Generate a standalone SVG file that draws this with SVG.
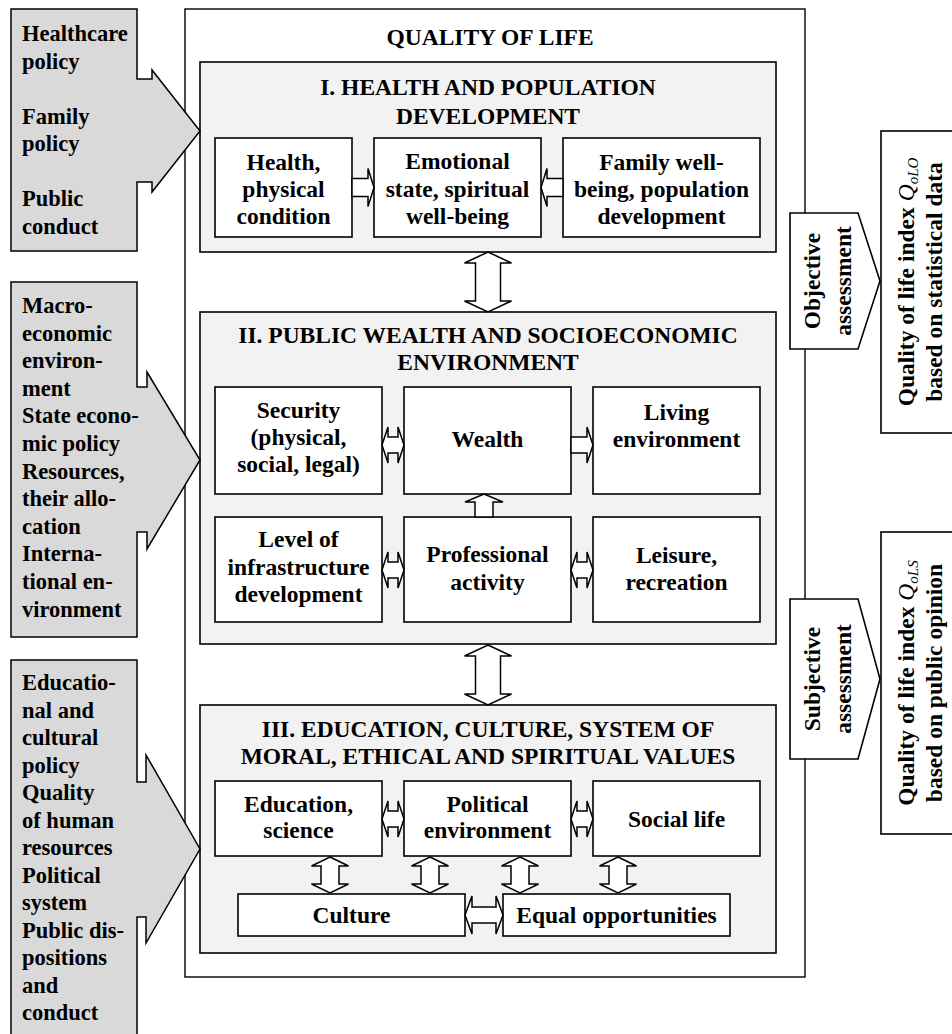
<svg xmlns="http://www.w3.org/2000/svg" width="952" height="1034" viewBox="0 0 952 1034">
<style>
text{font-family:"Liberation Serif","Times New Roman",serif;font-weight:bold;fill:#000}
.t{font-size:23.5px;text-anchor:middle}
.h{font-size:23.5px;text-anchor:middle}
.l{font-size:22.5px}
.r{font-size:23.5px;text-anchor:middle}
.box{fill:#fff;stroke:#000;stroke-width:1.6}
.sec{fill:#f2f2f2;stroke:#000;stroke-width:1.6}
.call{fill:#d9d9d9;stroke:#000;stroke-width:1.5}
.arr{fill:#fff;stroke:#000;stroke-width:1.5;stroke-linejoin:miter}
.q{font-style:italic;font-weight:normal}
</style>
<rect width="952" height="1034" fill="#fff"/>

<g id="quality-of-life">
<rect x="185" y="9" width="620" height="968" fill="#fff" stroke="#000" stroke-width="1.4"/>
<text class="h" x="490" y="45">QUALITY OF LIFE</text>
</g>

<g id="section-1">
<rect class="sec" x="200" y="62" width="576" height="190"/>
<text class="h" x="488" y="95">I. HEALTH AND POPULATION</text>
<text class="h" x="488" y="124">DEVELOPMENT</text>
</g>
<g id="health"><rect class="box" x="215" y="138" width="137" height="99"/>
<text class="t" x="283.5" y="170">Health,</text><text class="t" x="283.5" y="197">physical</text><text class="t" x="283.5" y="224">condition</text></g>
<g id="emotional"><rect class="box" x="374" y="138" width="167" height="99"/>
<text class="t" x="457.5" y="169">Emotional</text><text class="t" x="457.5" y="197">state, spiritual</text><text class="t" x="457.5" y="224">well-being</text></g>
<g id="family"><rect class="box" x="563" y="138" width="197" height="99"/>
<text class="t" x="661.5" y="170">Family well-</text><text class="t" x="661.5" y="197">being, population</text><text class="t" x="661.5" y="224">development</text></g>

<g id="section-2">
<rect class="sec" x="200" y="312" width="576" height="332"/>
<text class="h" x="488" y="343">II. PUBLIC WEALTH AND SOCIOECONOMIC</text>
<text class="h" x="488" y="370">ENVIRONMENT</text>
</g>
<g id="security"><rect class="box" x="215" y="387" width="167" height="107"/>
<text class="t" x="298.5" y="418">Security</text><text class="t" x="298.5" y="445">(physical,</text><text class="t" x="298.5" y="472">social, legal)</text></g>
<g id="wealth"><rect class="box" x="404" y="387" width="167" height="107"/>
<text class="t" x="487.5" y="447">Wealth</text></g>
<g id="living"><rect class="box" x="593" y="387" width="167" height="107"/>
<text class="t" x="676.5" y="420">Living</text><text class="t" x="676.5" y="447">environment</text></g>
<g id="level"><rect class="box" x="215" y="517" width="167" height="105"/>
<text class="t" x="298.5" y="547">Level of</text><text class="t" x="298.5" y="575">infrastructure</text><text class="t" x="298.5" y="602">development</text></g>
<g id="professional"><rect class="box" x="404" y="517" width="167" height="105"/>
<text class="t" x="487.5" y="562">Professional</text><text class="t" x="487.5" y="590">activity</text></g>
<g id="leisure"><rect class="box" x="593" y="517" width="167" height="105"/>
<text class="t" x="676.5" y="563">Leisure,</text><text class="t" x="676.5" y="590">recreation</text></g>

<g id="section-3">
<rect class="sec" x="200" y="705" width="576" height="248"/>
<text class="h" x="488" y="737">III. EDUCATION, CULTURE, SYSTEM OF</text>
<text class="h" x="488" y="764">MORAL, ETHICAL AND SPIRITUAL VALUES</text>
</g>
<g id="education"><rect class="box" x="215" y="781" width="167" height="75"/>
<text class="t" x="298.5" y="812">Education,</text><text class="t" x="298.5" y="838">science</text></g>
<g id="political"><rect class="box" x="404" y="781" width="167" height="75"/>
<text class="t" x="487.5" y="812">Political</text><text class="t" x="487.5" y="838">environment</text></g>
<g id="social"><rect class="box" x="593" y="781" width="167" height="75"/>
<text class="t" x="676.5" y="827">Social life</text></g>
<g id="culture"><rect class="box" x="238" y="894" width="227" height="42"/>
<text class="t" x="351.5" y="923">Culture</text></g>
<g id="equal"><rect class="box" x="503" y="894" width="227" height="42"/>
<text class="t" x="616.5" y="923">Equal opportunities</text></g>

<g id="connectors">
<path class="arr" d="M352,178.5 H368 V168.5 L374,187.5 L368,206.5 V196.5 H352 Z"/>
<path class="arr" d="M563,178.5 H547 V168.5 L541,187.5 L547,206.5 V196.5 H563 Z"/>
<path class="arr" d="M488,252 L511.5,263 H500.5 V301 H511.5 L488,312 L464.5,301 H475.5 V263 H464.5 Z"/>
<path class="arr" d="M382,445 L388,427 V437 H398 V427 L404,445 L398,463 V453 H388 V463 Z"/>
<path class="arr" d="M571,437 H587 V427 L593,445 L587,463 V453 H571 Z"/>
<path class="arr" d="M475,517 V502 H465 L484,494 L503,502 H493 V517 Z"/>
<path class="arr" d="M382,570 L388,552 V562 H398 V552 L404,570 L398,588 V578 H388 V588 Z"/>
<path class="arr" d="M571,570 L577,552 V562 H587 V552 L593,570 L587,588 V578 H577 V588 Z"/>
<path class="arr" d="M488,645 L511.5,656 H500.5 V694 H511.5 L488,705 L464.5,694 H475.5 V656 H464.5 Z"/>
<path class="arr" d="M382,819 L388,801 V811 H398 V801 L404,819 L398,837 V827 H388 V837 Z"/>
<path class="arr" d="M571,819 L577,801 V811 H587 V801 L593,819 L587,837 V827 H577 V837 Z"/>
<path class="arr" d="M330,857 L348.5,866 H339 V884 H348.5 L330,893 L311.5,884 H321 V866 H311.5 Z"/>
<path class="arr" d="M430,857 L448.5,866 H439 V884 H448.5 L430,893 L411.5,884 H421 V866 H411.5 Z"/>
<path class="arr" d="M520,857 L538.5,866 H529 V884 H538.5 L520,893 L501.5,884 H511 V866 H501.5 Z"/>
<path class="arr" d="M618,857 L636.5,866 H627 V884 H636.5 L618,893 L599.5,884 H609 V866 H599.5 Z"/>
<path class="arr" d="M465,915 L472,896 V907 H496 V896 L503,915 L496,934 V923 H472 V934 Z"/>
</g>

<g id="policy-health">
<path class="call" d="M11,9 H137 V79 H152 V70 L200,131 L152,192 V182 H137 V251 H11 Z"/>
<text class="l" x="22" y="41">Healthcare</text><text class="l" x="22" y="68.5">policy</text>
<text class="l" x="22" y="123.5">Family</text><text class="l" x="22" y="151">policy</text>
<text class="l" x="22" y="206">Public</text><text class="l" x="22" y="233.5">conduct</text>
</g>
<g id="policy-economic">
<path class="call" d="M11,282 H137 V387 H147 V372 L200,460 L147,549 V532 H137 V637 H11 Z"/>
<text class="l" x="22" y="313">Macro-</text><text class="l" x="22" y="340.6">economic</text>
<text class="l" x="22" y="368.2">environ-</text><text class="l" x="22" y="395.8">ment</text>
<text class="l" x="22" y="423.4">State econo-</text><text class="l" x="22" y="451">mic policy</text>
<text class="l" x="22" y="478.6">Resources,</text><text class="l" x="22" y="506.2">their allo-</text>
<text class="l" x="22" y="533.8">cation</text><text class="l" x="22" y="561.4">Interna-</text>
<text class="l" x="22" y="589">tional en-</text><text class="l" x="22" y="616.6">vironment</text>
</g>
<g id="policy-education">
<path class="call" d="M11,660 H137 V782 H146 V755 L200,849 L146,943 V917 H137 V1040 H11 Z"/>
<text class="l" x="22" y="690">Educatio-</text><text class="l" x="22" y="717.5">nal and</text>
<text class="l" x="22" y="745">cultural</text><text class="l" x="22" y="772.5">policy</text>
<text class="l" x="22" y="800">Quality</text><text class="l" x="22" y="827.5">of human</text>
<text class="l" x="22" y="855">resources</text><text class="l" x="22" y="882.5">Political</text>
<text class="l" x="22" y="910">system</text><text class="l" x="22" y="937.5">Public dis-</text>
<text class="l" x="22" y="965">positions</text><text class="l" x="22" y="992.5">and</text>
<text class="l" x="22" y="1020">conduct</text>
</g>

<g id="objective">
<path class="box" d="M790,213 H858 L880,281 L858,349 H790 Z"/>
<text class="r" transform="translate(820,281) rotate(-90)">Objective</text>
<text class="r" transform="translate(851,281) rotate(-90)">assessment</text>
</g>
<g id="subjective">
<path class="box" d="M790,599 H858 L880,679 L858,759 H790 Z"/>
<text class="r" transform="translate(820,679) rotate(-90)">Subjective</text>
<text class="r" transform="translate(851,679) rotate(-90)">assessment</text>
</g>
<g id="index-objective">
<rect class="box" x="881" y="131" width="90" height="302"/>
<text class="r" transform="translate(914,282) rotate(-90)">Quality of life index <tspan class="q">Q</tspan><tspan class="q" font-size="15" dy="4">oLO</tspan></text>
<text class="r" transform="translate(942,282) rotate(-90)">based on statistical data</text>
</g>
<g id="index-subjective">
<rect class="box" x="881" y="532" width="90" height="302"/>
<text class="r" transform="translate(914,683) rotate(-90)">Quality of life index <tspan class="q">Q</tspan><tspan class="q" font-size="15" dy="4">oLS</tspan></text>
<text class="r" transform="translate(942,683) rotate(-90)">based on public opinion</text>
</g>
</svg>
